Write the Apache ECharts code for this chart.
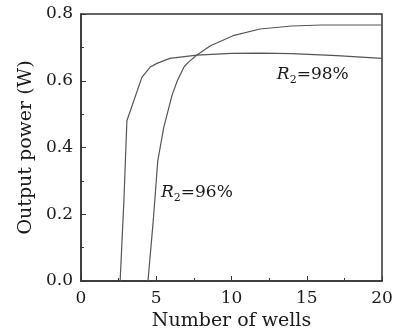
<!DOCTYPE html>
<html>
<head>
<meta charset="utf-8">
<script src="https://cdn.jsdelivr.net/npm/echarts@6/dist/echarts.min.js"></script>
<style>
html,body{margin:0;padding:0;background:#fff;}
#main{width:396px;height:331px;}
</style>
</head>
<body>
<div id="main"></div>
<script>
// R2=98%
var wells98 = [2.6, 2.85, 3.05, 4.05, 4.6, 5.05, 5.9, 7.7, 10, 12, 14, 17, 20];
var power98 = [0, 0.24, 0.48, 0.611, 0.641, 0.652, 0.667, 0.677, 0.682, 0.683, 0.681, 0.675, 0.667];
// R2=96%
var wells96 = [4.45, 4.8, 5.1, 5.5, 6.05, 6.4, 6.85, 7.2, 7.7, 8.6, 10.1, 11.9, 14, 16, 20];
var power96 = [0, 0.18, 0.36, 0.46, 0.557, 0.6, 0.642, 0.658, 0.677, 0.705, 0.735, 0.755, 0.764, 0.767, 0.767];

var xTicks = [0, 5, 10, 15, 20];
var yTicks = [0.0, 0.2, 0.4, 0.6, 0.8];

function pairs(xs, ys){
	var out = [];
	for (var i = 0; i < xs.length; i++) out.push([xs[i], ys[i]]);
	return out;
}

var font = 'DejaVu Serif';
var richLabel = {
	r: {fontFamily: font, fontSize: 17, fontStyle: 'italic', color: '#1a1a1a', lineHeight: 18},
	s: {fontFamily: font, fontSize: 11, color: '#1a1a1a', lineHeight: 12, padding: [10, 0, 0, 0]},
	t: {fontFamily: font, fontSize: 17, color: '#1a1a1a', lineHeight: 18}
};

function tag(coord, txt){
	return {
		data: [{coord: coord}],
		symbol: 'circle',
		symbolSize: 0,
		silent: true,
		label: {show: true, position: 'inside', formatter: '{r|R}{s|2}{t|' + txt + '}', rich: richLabel}
	};
}

var myChart = echarts.init(document.getElementById('main'));
var option = {
	animation: false,
	grid: {left: 81, right: 14, top: 14, bottom: 50, show: true, borderColor: '#333', borderWidth: 1.5,
		containLabel: false, outerBoundsMode: 'none'},
	xAxis: {
		type: 'value', min: 0, max: 20, interval: 5,
		name: 'Number of wells', nameLocation: 'middle', nameGap: 26,
		nameTextStyle: {fontFamily: font, fontSize: 19, color: '#1a1a1a'},
		axisLine: {show: true, lineStyle: {color: '#333', width: 1.5}},
		axisTick: {show: true, inside: true, length: 5, lineStyle: {color: '#333'}},
		minorTick: {show: true, splitNumber: 2, length: 3, lineStyle: {color: '#333'}},
		splitLine: {show: false},
		axisLabel: {
			fontFamily: font, fontSize: 17, color: '#1a1a1a', margin: 9,
			formatter: function(v){ return xTicks.indexOf(v) >= 0 ? String(v) : ''; }
		}
	},
	yAxis: {
		type: 'value', min: 0, max: 0.8, interval: 0.2,
		name: 'Output power (W)', nameLocation: 'middle', nameGap: 44,
		nameTextStyle: {fontFamily: font, fontSize: 19, color: '#1a1a1a'},
		axisLine: {show: true, lineStyle: {color: '#333', width: 1.5}},
		axisTick: {show: true, inside: true, length: 5, lineStyle: {color: '#333'}},
		minorTick: {show: true, splitNumber: 2, length: 3, lineStyle: {color: '#333'}},
		splitLine: {show: false},
		axisLabel: {
			fontFamily: font, fontSize: 17, color: '#1a1a1a', margin: 8,
			formatter: function(v){ return v.toFixed(1); }
		}
	},
	series: [
		{
			name: 'R2=98%', type: 'line', data: pairs(wells98, power98),
			showSymbol: false, lineStyle: {color: '#555', width: 1.2},
			markPoint: tag([15.4, 0.617], '=98%')
		},
		{
			name: 'R2=96%', type: 'line', data: pairs(wells96, power96),
			showSymbol: false, lineStyle: {color: '#555', width: 1.2},
			markPoint: tag([7.7, 0.264], '=96%')
		}
	]
};
myChart.setOption(option);
</script>
</body>
</html>
